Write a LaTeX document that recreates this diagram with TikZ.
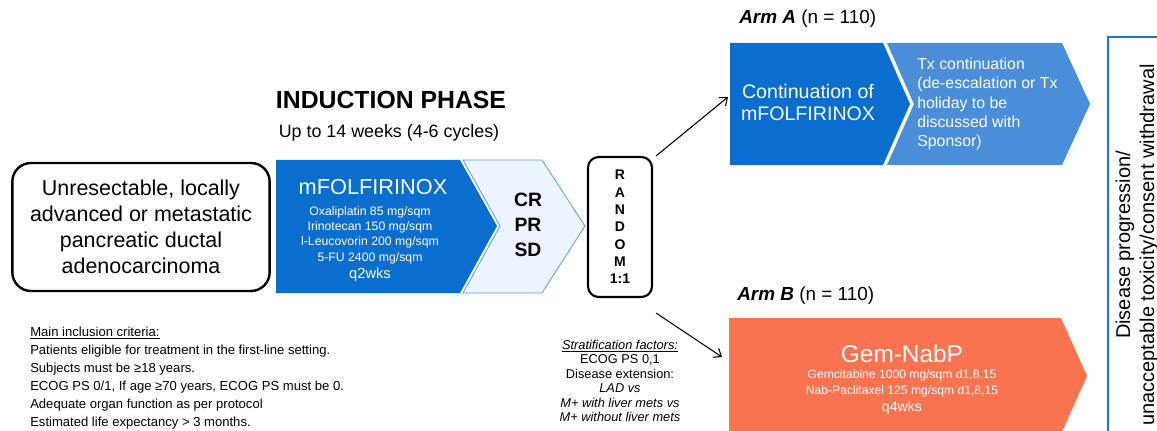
\documentclass[tikz,border=0pt]{standalone}
\usepackage{fontspec}
\setmainfont{Liberation Sans}
\usetikzlibrary{arrows.meta}
\definecolor{indblue}{RGB}{10,110,206}
\definecolor{lightfill}{RGB}{238,244,252}
\definecolor{edgeblue}{RGB}{91,155,213}
\definecolor{txblue}{RGB}{74,141,217}
\definecolor{coral}{RGB}{250,115,80}
\definecolor{boxblue}{RGB}{28,116,208}
\newcommand{\fsz}[2]{\fontsize{#1}{#2}\selectfont}
\tikzset{
    startbox/.style={draw, line width=1.8pt, rounded corners=14pt, align=center,
        minimum width=193pt, minimum height=96pt, font=\fsz{16.1}{19.5}},
    randbox/.style={draw, line width=1.6pt, rounded corners=8pt, align=center,
        minimum width=48pt, minimum height=105pt, font=\bfseries\fsz{10.5}{13}},
    wtxt/.style={text=white, align=center, inner sep=0pt},
    btxt/.style={align=center, inner sep=0pt},
    arr/.style={-{Straight Barb[length=5pt,width=8pt]}, line width=0.8pt}
}

\begin{document}
\begin{tikzpicture}[x=0.75pt, y=-0.75pt]
    \useasboundingbox (0,0) rectangle (1157,431);

    % chevrons
    \fill[indblue] (276,160) -- (460,160) -- (497,226) -- (460,293) -- (276,293) -- cycle;
    \filldraw[fill=lightfill, draw=edgeblue, line width=0.6pt]
        (463,160) -- (542,160) -- (585,226) -- (542,293) -- (463,293) -- (500,226) -- cycle;
    \fill[indblue] (730,43) -- (883,43) -- (910,104) -- (883,165) -- (730,165) -- cycle;
    \fill[txblue] (887,43) -- (1062,43) -- (1090,104) -- (1062,165) -- (887,165) -- (914,104) -- cycle;
    \fill[coral] (729,318) -- (1061,318) -- (1087,376) -- (1061,434) -- (729,434) -- cycle;
    \draw[boxblue, line width=1.8pt] (1108,431) -- (1108,37) -- (1157,37);

    \node[startbox] (pat) at (141,227) {Unresectable, locally\\advanced or metastatic\\pancreatic ductal\\adenocarcinoma};

    \node[btxt, font=\bfseries\fsz{18.6}{21}] (indhead) at (391,100) {INDUCTION PHASE};
    \node[btxt, font=\fsz{13.4}{16}] (indweeks) at (389,133) {Up to 14 weeks (4-6 cycles)};

    \node[wtxt, font=\fsz{16.3}{19}] (indtitle) at (373,187) {mFOLFIRINOX};
    \node[wtxt, font=\fsz{9.2}{11.5}] (inddrugs) at (370,244) {Oxaliplatin 85 mg/sqm\\Irinotecan 150 mg/sqm\\l-Leucovorin 200 mg/sqm\\5-FU 2400 mg/sqm\\[1.5pt]{\fsz{11}{13}q2wks}};
    \node[btxt, font=\bfseries\fsz{14.5}{18.5}] (resp) at (528,225) {CR\\PR\\SD};

    \node[randbox] (rand) at (620,227) {R\\A\\N\\D\\O\\M\\1:1};

    \node[btxt, anchor=west, font=\fsz{14.2}{17}] (armAlbl) at (739,19) {\textbf{\textit{Arm A}} (n = 110)};
    \node[wtxt, font=\fsz{14.7}{16.5}] (armAcont) at (808,102) {Continuation of\\mFOLFIRINOX};
    \node[wtxt, anchor=west, align=left, font=\fsz{11.9}{14.4}] (armAtx) at (917,104) {Tx continuation\\(de-escalation or Tx\\holiday to be\\discussed with\\Sponsor)};

    \node[btxt, anchor=west, font=\fsz{14.2}{17}] (armBlbl) at (737,296) {\textbf{\textit{Arm B}} (n = 110)};
    \node[wtxt, font=\fsz{18.3}{21}] (armBtitle) at (902,354) {Gem-NabP};
    \node[wtxt, font=\fsz{9.1}{12.5}] (armBdrugs) at (902,392) {Gemcitabine 1000 mg/sqm d1,8,15\\Nab-Paclitaxel 125 mg/sqm d1,8,15\\{\fsz{10.6}{12.5}q4wks}};

    \node[btxt, rotate=90, font=\fsz{15}{18}] (offstudy) at (1137,245) {Disease progression/\\unacceptable toxicity/consent withdrawal};

    \node[btxt, anchor=west, align=left, font=\fsz{9.8}{13.6}] (incl) at (30,378) {\underline{Main inclusion criteria:}\\Patients eligible for treatment in the first-line setting.\\Subjects must be ≥18 years.\\ECOG PS 0/1, If age ≥70 years, ECOG PS must be 0.\\Adequate organ function as per protocol\\Estimated life expectancy > 3 months.};
    \node[btxt, font=\fsz{9.6}{10.9}] (strat) at (620,381) {\underline{\textit{Stratification factors:}}\\ECOG PS 0,1\\Disease extension:\\\textit{LAD vs}\\\textit{M+ with liver mets vs}\\\textit{M+ without liver mets}};

    % randomisation arrows
    \coordinate (armAin) at (728,97);
    \coordinate (armBin) at (722,357);
    \draw[arr] ([shift={(3,0)}]rand.north east) -- (armAin);
    \draw[arr] ([shift={(3,15)}]rand.south east) -- (armBin);
\end{tikzpicture}
\end{document}
